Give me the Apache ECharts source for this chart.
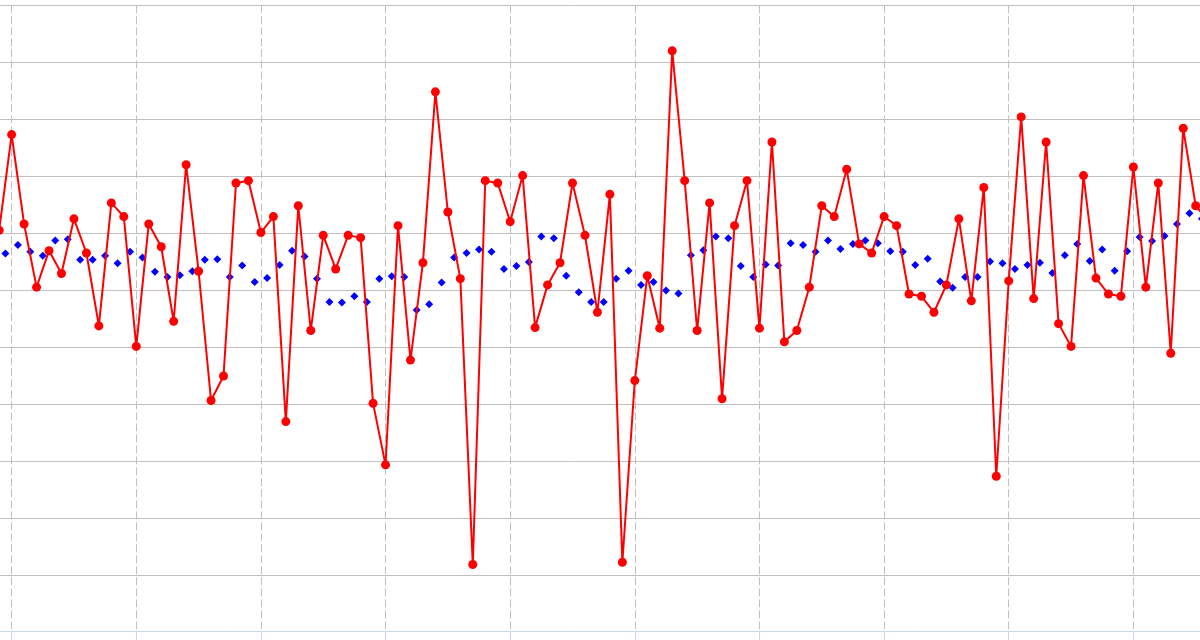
<!DOCTYPE html>
<html>
<head>
<meta charset="utf-8">
<script src="https://cdn.jsdelivr.net/npm/echarts@6/dist/echarts.min.js"></script>
<style>
  html, body { margin: 0; padding: 0; background: #ffffff; overflow: hidden; width: 1200px; height: 640px; }
  #wrap { position: relative; width: 1200px; height: 640px; overflow: hidden; }
  #chart { position: absolute; left: -113px; top: 0; width: 1371px; height: 640px; }
</style>
</head>
<body>
<div id="wrap"><div id="chart"></div></div>
<script>
// x position of the first point of each series (index units)
var redStart = 9;
var blueStart = 9.5;

// red line series values
var redValues = [
  0.5, 17.3, 1.6, -9.5, -3.1, -7.1, 2.5, -3.5, -16.3, 5.3,
  2.9, -19.9, 1.6, -2.4, -15.5, 12.0, -6.7, -29.4, -25.1, 8.8,
  9.2, 0.1, 2.9, -33.1, 4.8, -17.1, -0.4, -6.3, -0.4, -0.8,
  -29.9, -40.7, 1.3, -22.3, -5.2, 24.8, 3.7, -8.0, -58.2, 9.2,
  8.8, 2.0, 10.1, -16.6, -9.1, -5.2, 8.8, -0.4, -13.9, 6.8,
  -57.8, -25.9, -7.5, -16.7, 32.0, 9.2, -17.1, 5.3, -29.1, 1.3,
  9.2, -16.7, 16.0, -19.1, -17.1, -9.5, 4.8, 2.9, 11.2, -1.9,
  -3.5, 2.9, 1.3, -10.7, -11.1, -13.9, -9.1, 2.5, -11.9, 8.0,
  -42.7, -8.4, 20.4, -11.5, 16.0, -15.9, -19.9, 10.1, -7.9, -10.7,
  -11.1, 11.6, -9.5, 8.8, -21.1, 18.4, 4.8, 2.2
];

// blue diamond series values
var blueValues = [
  -3.6, -2.1, -3.3, -4.0, -1.3, -1.1, -4.7, -4.7, -4.0, -5.3,
  -3.3, -4.3, -6.8, -7.7, -7.4, -6.7, -4.7, -4.6, -7.7, -5.7,
  -8.6, -7.9, -5.6, -3.1, -4.1, -8.0, -12.1, -12.2, -11.1, -12.1,
  -8.0, -7.6, -7.7, -13.5, -12.5, -8.7, -4.3, -3.5, -2.9, -3.3,
  -6.3, -5.8, -5.1, -0.6, -0.9, -7.5, -10.4, -12.1, -12.1, -8.0,
  -6.6, -9.1, -8.6, -10.1, -10.6, -3.9, -3.0, -0.6, -0.9, -5.8,
  -7.7, -5.5, -5.7, -1.8, -2.1, -3.3, -1.3, -2.8, -1.9, -1.3,
  -1.8, -3.2, -3.3, -5.6, -4.5, -8.5, -9.6, -7.7, -7.7, -5.0,
  -5.3, -6.3, -5.6, -5.2, -7.0, -3.9, -1.9, -4.9, -2.9, -6.6,
  -3.2, -0.7, -1.4, -0.5, 1.6, 3.5, 2.5
];

function pairs(start, vals) {
  return vals.map(function (v, i) { return [start + i, v]; });
}

var chart = echarts.init(document.getElementById('chart'), null, { renderer: 'canvas' });
chart.setOption({
  animation: false,
  backgroundColor: '#ffffff',
  grid: { left: 0, right: 0, top: 5.3, bottom: 8.3 },
  xAxis: {
    type: 'value',
    min: 0, max: 110, interval: 10,
    axisLine: { show: true, onZero: false, lineStyle: { color: '#ccd6eb', width: 1 } },
    axisTick: { show: true, length: 10, lineStyle: { color: '#ccd6eb', width: 1 } },
    axisLabel: { show: false },
    splitLine: { show: true, lineStyle: { color: '#c0c0c0', width: 1, type: [8, 3] } }
  },
  yAxis: {
    type: 'value',
    min: -70, max: 40, interval: 10,
    axisLine: { show: false },
    axisTick: { show: false },
    axisLabel: { show: false },
    splitLine: { show: true, showMinLine: false, lineStyle: { color: '#c0c0c0', width: 1 } }
  },
  series: [
    {
      type: 'scatter',
      data: pairs(blueStart, blueValues),
      symbol: 'diamond',
      symbolSize: 8,
      itemStyle: { color: '#0000ff', opacity: 1 },
      z: 2
    },
    {
      type: 'line',
      data: pairs(redStart, redValues),
      symbol: 'circle',
      symbolSize: 9,
      showAllSymbol: true,
      lineStyle: { color: '#ff0000', width: 2 },
      itemStyle: { color: '#ff0000', opacity: 1 },
      z: 3
    }
  ]
});
</script>
</body>
</html>
